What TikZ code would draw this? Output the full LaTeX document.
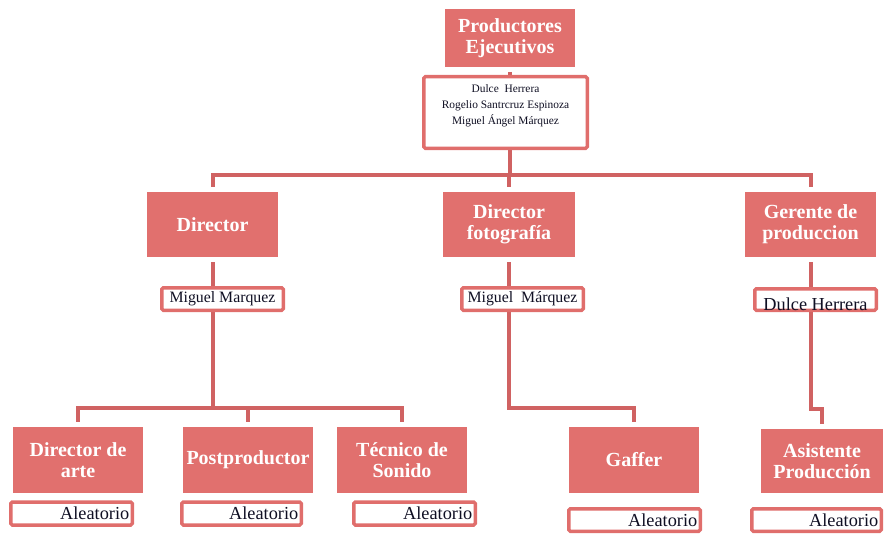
\documentclass[tikz,border=0pt]{standalone}
\usepackage{fontspec}
\setmainfont{Liberation Serif}
\usetikzlibrary{backgrounds}
\definecolor{cargorojo}{RGB}{225,112,110}
\definecolor{linearoja}{RGB}{208,98,98}
\definecolor{marcorojo}{RGB}{224,110,108}
\definecolor{tinta}{RGB}{15,15,35}
\newcommand{\fntcargo}{\fontsize{20}{21}\selectfont\bfseries}
\newcommand{\fntnom}{\fontsize{11.4}{16}\selectfont}
\newcommand{\fntmm}{\fontsize{15.8}{17}\selectfont}
\newcommand{\fntal}{\fontsize{18.3}{19}\selectfont}

\begin{document}
\begin{tikzpicture}[x=1pt,y=-1pt,
    cargo/.style={fill=cargorojo,text=white,font=\fntcargo,align=center,
      inner sep=0pt,outer sep=5pt,minimum width=131pt,minimum height=65pt},
    nombre/.style={draw=marcorojo,line width=3.5pt,fill=white,
      rounded corners=1.5pt,text=tinta,inner sep=0pt,minimum height=22.5pt},
    aleat/.style={nombre,font=\fntal,align=right,inner xsep=3pt,
      minimum height=23pt},
    conector/.style={draw=linearoja,line width=4pt}]
    \useasboundingbox (0,0) rectangle (884,535);

    % productores
    \node[cargo,minimum width=130pt,minimum height=58pt] (prod) at (510,38)
      {Productores\\Ejecutivos};
    \node[nombre,minimum width=163.5pt,minimum height=71.5pt,font=\fntnom,
      align=center] (ejec) at (505.5,112.5)
      {Dulce\ \ Herrera\\Rogelio Santrcruz Espinoza\\Miguel Ángel Márquez\\\mbox{}};
    \coordinate (barra) at (510,174.5);

    % segundo nivel
    \node[cargo] (dir) at (212.5,224.5) {Director};
    \node[cargo,minimum width=132pt] (foto) at (509,224.5) {Director\\fotografía};
    \node[cargo] (ger) at (810.5,224.5) {Gerente de\\produccion};

    \node[nombre,minimum width=121.5pt,font=\fntmm] (mma) at (222.5,299)
      {Miguel Marquez};
    \node[nombre,minimum width=121.5pt,font=\fntmm] (mmb) at (522.5,299)
      {Miguel\ \ Márquez};
    \node[nombre,minimum width=121.5pt,minimum height=21.5pt,font=\fntal]
      (dulce) at (815.5,299.5) {\raisebox{-10.5pt}[0pt][0pt]{Dulce Herrera}};

    \coordinate (dirbarra) at (212.5,408);
    \coordinate (fotobarra) at (509,408);
    \coordinate (gerbarra) at (810.5,409);

    % tercer nivel
    \node[cargo,minimum width=130pt,minimum height=66pt] (arte) at (78,460)
      {Director de\\arte};
    \node[cargo,minimum width=130pt,minimum height=66pt] (post) at (248,460)
      {Postproductor};
    \node[cargo,minimum width=130pt,minimum height=66pt] (tec) at (402,460)
      {Técnico de\\Sonido};
    \node[cargo,minimum width=130pt,minimum height=66pt] (gaf) at (634,460)
      {Gaffer};
    \node[cargo,minimum width=122pt,minimum height=64pt] (asis) at (822,461)
      {Asistente\\Producción};

    \node[aleat,minimum width=121.5pt,text width=115.5pt] (ala) at (71.5,513.5)
      {Aleatorio};
    \node[aleat,minimum width=119.5pt,text width=113.5pt] (alb) at (241.5,513.5)
      {Aleatorio};
    \node[aleat,minimum width=121.5pt,text width=115.5pt] (alc) at (414.5,513.5)
      {Aleatorio};
    \node[aleat,minimum width=131.5pt,text width=125.5pt,minimum height=22.5pt]
      (ald) at (634.5,520) {Aleatorio};
    \node[aleat,minimum width=129.5pt,text width=123.5pt,minimum height=22.5pt]
      (ale) at (816.5,520) {Aleatorio};

    \begin{scope}[on background layer]
      \draw[conector] (prod.south) -- (barra)
        (barra) -| (dir.north) (barra) -| (foto.north) (barra) -| (ger.north);
      \draw[conector] (dir.south) -- (dirbarra)
        (dirbarra) -| (arte.north) (dirbarra) -| (post.north)
        (dirbarra) -| (tec.north);
      \draw[conector] (foto.south) -- (fotobarra) -| (gaf.north);
      \draw[conector] (ger.south) -- (gerbarra) -| (asis.north);
    \end{scope}
  \end{tikzpicture}
\end{document}
